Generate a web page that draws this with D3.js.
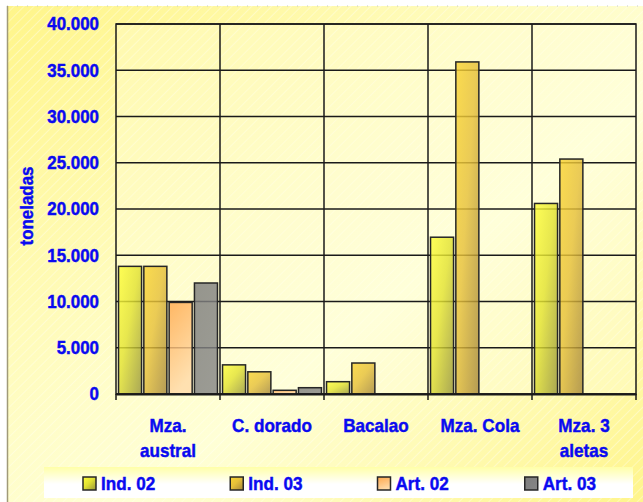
<!DOCTYPE html>
<html>
<head>
<meta charset="utf-8">
<script src="https://cdn.jsdelivr.net/npm/d3@7"></script>
<style>
  body { margin: 0; background: #fff; }
  svg { display: block; font-family: "Liberation Sans", Arial, sans-serif; }
  .lbl { stroke: #0a0af0; stroke-width: 0.45px; }
</style>
</head>
<body>
<script>
const CATEGORIES = ["Mza. austral", "C. dorado", "Bacalao", "Mza. Cola", "Mza. 3 aletas"]
const CAT_LINES = [["Mza.", "austral"], ["C. dorado"], ["Bacalao"], ["Mza. Cola"], ["Mza. 3", "aletas"]]
const SERIES = ["Ind. 02", "Ind. 03", "Art. 02", "Art. 03"]
const IND_02 = [13800, 3150, 1330, 16950, 20600]
const IND_03 = [13800, 2400, 3350, 35900, 25400]
const ART_02 = [9900, 400, 0, 0, 0]
const ART_03 = [12000, 680, 0, 0, 0]
const Y_TICKS = [0, 5000, 10000, 15000, 20000, 25000, 30000, 35000, 40000]

const VALUES = [IND_02, IND_03, ART_02, ART_03]
const width = 643, height = 502
const margin = { top: 24, right: 7, bottom: 108, left: 116 }
const BLUE = "#0a0af0"

const svg = d3.select("body").append("svg")
  .attr("width", width).attr("height", height)

const defs = svg.append("defs")

function linGrad(id, stops, x2 = 1, y2 = 1) {
  const g = defs.append("linearGradient").attr("id", id)
    .attr("x1", 0).attr("y1", 0).attr("x2", x2).attr("y2", y2)
  stops.forEach(([o, c]) => g.append("stop").attr("offset", o).attr("stop-color", c))
}
linGrad("bg", [[0, "#fff58a"], [0.45, "#fffdc8"], [0.6, "#ffffd6"], [1, "#fff58c"]])
linGrad("legbg", [[0, "#ffffa8"], [0.55, "#ffffff"], [1, "#ffffff"]], 0, 1)
linGrad("g0", [[0, "#ffff3a"], [0.45, "#e2e232"], [1, "#96943a"]])
linGrad("g1", [[0, "#fad432"], [0.45, "#e6c03a"], [1, "#a4863a"]])
linGrad("g2", [[0, "#ffa84c"], [1, "#ffdaa8"]], 0.3, 1)
linGrad("g3", [[0, "#7e7e7e"], [1, "#868686"]])
const FILLS = ["url(#g0)", "url(#g1)", "url(#g2)", "url(#g3)"]

const pat = defs.append("pattern").attr("id", "stripes")
  .attr("width", 7).attr("height", 7)
  .attr("patternUnits", "userSpaceOnUse")
  .attr("patternTransform", "rotate(45)")
pat.append("line").attr("x1", 0).attr("y1", 0).attr("x2", 0).attr("y2", 7)
  .attr("stroke", "#fff").attr("stroke-width", 2).attr("stroke-opacity", 0.35)

// squeeze text horizontally like the original's narrow bold font
function squeeze(sel, f) {
  sel.each(function() {
    const len = this.getComputedTextLength()
    d3.select(this).attr("textLength", len * f).attr("lengthAdjust", "spacingAndGlyphs")
  })
}

// chart area
svg.append("rect").attr("x", 7).attr("y", 6).attr("width", width - 7).attr("height", height - 6)
  .attr("fill", "url(#bg)")
svg.append("rect").attr("x", 7).attr("y", 6).attr("width", width - 7).attr("height", height - 6)
  .attr("fill", "url(#stripes)")
svg.append("line").attr("x1", 7).attr("x2", width).attr("y1", 6).attr("y2", 6)
  .attr("stroke", "#c8c8c8").attr("stroke-dasharray", "1,9")
svg.append("line").attr("x1", 7.5).attr("x2", 7.5).attr("y1", 6).attr("y2", height)
  .attr("stroke", "#a09a78").attr("stroke-width", 1.5)

const innerW = width - margin.left - margin.right
const innerH = height - margin.top - margin.bottom

const x0 = d3.scaleBand().domain(CATEGORIES).range([margin.left, margin.left + innerW])
const x1 = d3.scaleBand().domain(SERIES).range([0, x0.bandwidth()])
  .paddingInner(0.09).paddingOuter(0.1)
const y = d3.scaleLinear().domain([0, 40000]).range([margin.top + innerH, margin.top])

const fmt = d3.formatLocale({ decimal: ",", thousands: ".", grouping: [3], currency: ["", ""] }).format(",d")

// plot area tint
svg.append("rect").attr("x", margin.left).attr("y", margin.top)
  .attr("width", innerW).attr("height", innerH)
  .attr("fill", "#ffffe0").attr("fill-opacity", 0.3)

// grid
const grid = svg.append("g")
grid.selectAll(".hg").data(Y_TICKS).join("line")
  .attr("x1", margin.left).attr("x2", margin.left + innerW)
  .attr("y1", d => y(d)).attr("y2", d => y(d))
  .attr("stroke", "#1a1a1a").attr("stroke-width", 1.5)
grid.selectAll(".vg").data(CATEGORIES.slice(1)).join("line")
  .attr("x1", d => x0(d)).attr("x2", d => x0(d))
  .attr("y1", margin.top).attr("y2", margin.top + innerH)
  .attr("stroke", "#1a1a1a").attr("stroke-width", 1.5)

// bars
const bars = []
CATEGORIES.forEach((c, ci) => SERIES.forEach((s, si) => {
  if (VALUES[si][ci] > 0) bars.push({ c, s, si, v: VALUES[si][ci] })
}))
svg.append("g").selectAll("rect").data(bars).join("rect")
  .attr("x", d => x0(d.c) + x1(d.s))
  .attr("y", d => y(d.v))
  .attr("width", x1.bandwidth())
  .attr("height", d => y(0) - y(d.v))
  .attr("fill", d => FILLS[d.si])
  .attr("fill-opacity", 0.82)
  .attr("stroke", "#262626").attr("stroke-width", 1.5)

// plot border + axes
svg.append("rect").attr("x", margin.left).attr("y", margin.top)
  .attr("width", innerW).attr("height", innerH)
  .attr("fill", "none").attr("stroke", "#1a1a1a").attr("stroke-width", 1.5)

const xAxis = svg.append("g")
  .attr("transform", `translate(0,${y(0)})`)
  .call(d3.axisBottom(x0).tickSize(0).tickFormat(""))
xAxis.select(".domain").attr("stroke", "#1a1a1a").attr("stroke-width", 2)
xAxis.selectAll(".bt").data(x0.domain().map(d => x0(d)).concat([margin.left + innerW])).join("line")
  .attr("x1", d => d).attr("x2", d => d).attr("y1", 0).attr("y2", 6)
  .attr("stroke", "#1a1a1a").attr("stroke-width", 1.5)

const yAxis = svg.append("g")
  .attr("transform", `translate(${margin.left},0)`)
  .call(d3.axisLeft(y).tickValues(Y_TICKS).tickSize(0).tickPadding(17).tickFormat(fmt))
yAxis.select(".domain").remove()
yAxis.selectAll("text")
  .attr("class", "lbl")
  .attr("font-size", 18).attr("font-weight", "bold").attr("fill", BLUE)
  .attr("font-family", "'Liberation Sans', Arial, sans-serif")
  .call(squeeze, 0.94)

// category labels
const labels = svg.append("g")
CATEGORIES.forEach((c, i) => {
  CAT_LINES[i].forEach((ln, k) => labels.append("text")
    .attr("class", "lbl")
    .attr("x", x0(c) + x0.bandwidth() / 2).attr("y", 432 + k * 25)
    .attr("text-anchor", "middle")
    .attr("font-size", 19).attr("font-weight", "bold").attr("fill", BLUE)
    .text(ln))
})
labels.selectAll("text").call(squeeze, 0.9)

// y title
svg.append("text")
  .attr("class", "lbl")
  .attr("transform", "translate(33,206) rotate(-90)")
  .attr("text-anchor", "middle")
  .attr("font-size", 19).attr("font-weight", "bold").attr("fill", BLUE)
  .text("toneladas")
  .call(squeeze, 0.89)

// legend
const legX = d3.scaleBand().domain(SERIES).range([44, 633])
svg.append("rect").attr("x", 44).attr("y", 467).attr("width", 589).attr("height", 31)
  .attr("fill", "url(#legbg)")
const leg = svg.append("g").selectAll("g").data(SERIES).join("g")
  .attr("transform", d => `translate(${legX(d) + 39},477)`)
leg.append("rect").attr("width", 13).attr("height", 13)
  .attr("fill", (d, i) => FILLS[i]).attr("stroke", "#262626").attr("stroke-width", 1.5)
leg.append("text").attr("class", "lbl").attr("x", 18).attr("y", 13)
  .attr("font-size", 19).attr("font-weight", "bold").attr("fill", BLUE)
  .text(d => d)
  .call(squeeze, 0.9)
</script>
</body>
</html>
